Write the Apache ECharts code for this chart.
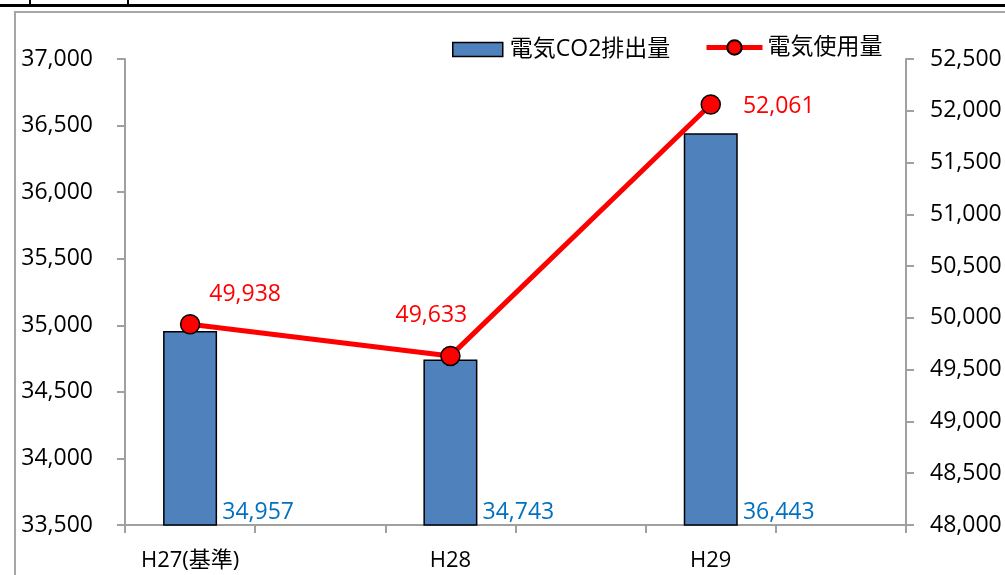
<!DOCTYPE html>
<html>
<head>
<meta charset="utf-8">
<script src="https://cdn.jsdelivr.net/npm/echarts@6/dist/echarts.min.js"></script>
<style>html,body{margin:0;padding:0;background:#fff;}#c{width:1005px;height:575px;}</style>
</head>
<body>
<div id="c"></div>
<script>
// ---- data ----
var categories = ['H27(基準)', 'H28', 'H29'];
var co2Values = [34957, 34743, 36443];      // 電気CO2排出量 (left axis)
var usageValues = [49938, 49633, 52061];    // 電気使用量 (right axis)
var leftTicks = { min: 33500, max: 37000, interval: 500 };
var rightTicks = { min: 48000, max: 52500, interval: 500 };
var seriesNames = ['電気CO2排出量', '電気使用量'];

// ---- styling (label offsets for line points) ----
var usageLabelOffsets = [[55, -30], [-19, -40], [68, 2]];

var FONT = "'Open Sans', 'Noto Sans CJK JP', sans-serif";
function fmt(v) { return Number(v).toLocaleString('en-US'); }

// each category occupies two slots (label slot + blank slot) to mimic the tick pattern
var slots = [], barData = [], lineData = [];
categories.forEach(function (c, i) {
  slots.push(c); slots.push('');
  barData.push(co2Values[i]); barData.push(null);
  lineData.push({
    value: usageValues[i],
    label: { offset: usageLabelOffsets[i] }
  });
  lineData.push(null);
});

var axisGray = '#A0A0A0';
var chart = echarts.init(document.getElementById('c'), null, { renderer: 'canvas' });
chart.setOption({
  animation: false,
  backgroundColor: '#fff',
  textStyle: { fontFamily: FONT },
  graphic: [
    { type: 'rect', shape: { x: 0, y: 4, width: 1005, height: 3 }, style: { fill: '#000' }, silent: true },
    { type: 'rect', shape: { x: 29, y: 0, width: 2, height: 5 }, style: { fill: '#000' }, silent: true },
    { type: 'rect', shape: { x: 127, y: 0, width: 2, height: 5 }, style: { fill: '#000' }, silent: true },
    { type: 'rect', shape: { x: 15, y: 12, width: 1100, height: 700 }, style: { fill: 'none', stroke: '#A6A6A6', lineWidth: 2 }, silent: true }
  ],
  grid: { left: 125, right: 99, top: 59, bottom: 50, containLabel: false },
  legend: [
    {
      data: [{ name: seriesNames[0], icon: 'rect' }], left: 452, top: 38, padding: 0,
      itemWidth: 50, itemHeight: 14, itemGap: 0,
      itemStyle: { borderColor: '#000', borderWidth: 1.5 },
      textStyle: { fontSize: 23, color: '#000', fontFamily: FONT, padding: [0, 0, 0, 2] }
    },
    {
      data: [seriesNames[1]], left: 704, top: 36, padding: 0,
      itemWidth: 56, itemHeight: 18, itemGap: 0,
      lineStyle: { width: 5, color: '#FF0000' },
      textStyle: { fontSize: 23, color: '#000', fontFamily: FONT }
    }
  ],
  xAxis: {
    type: 'category',
    data: slots,
    boundaryGap: true,
    axisLine: { lineStyle: { color: axisGray, width: 2 } },
    axisTick: { show: true, interval: 0, length: 8, lineStyle: { color: axisGray, width: 2 } },
    axisLabel: { interval: 0, margin: 25, fontSize: 22, color: '#000', fontFamily: FONT },
    splitLine: { show: false }
  },
  yAxis: [
    {
      type: 'value', position: 'left',
      min: leftTicks.min, max: leftTicks.max, interval: leftTicks.interval,
      axisLine: { show: true, lineStyle: { color: axisGray, width: 2 } },
      axisTick: { show: true, length: 8, lineStyle: { color: axisGray, width: 2 } },
      axisLabel: { margin: 32, fontSize: 23, color: '#000', fontFamily: FONT, formatter: fmt },
      splitLine: { show: false }
    },
    {
      type: 'value', position: 'right',
      min: rightTicks.min, max: rightTicks.max, interval: rightTicks.interval,
      axisLine: { show: true, lineStyle: { color: axisGray, width: 2 } },
      axisTick: { show: true, length: 8, lineStyle: { color: axisGray, width: 2 } },
      axisLabel: { margin: 24, fontSize: 23, color: '#000', fontFamily: FONT, formatter: fmt },
      splitLine: { show: false }
    }
  ],
  series: [
    {
      name: seriesNames[0], type: 'bar', yAxisIndex: 0,
      data: barData, barWidth: 54,
      itemStyle: { color: '#4F81BD', borderColor: '#000', borderWidth: 1.5 },
      label: {
        show: true, position: 'insideBottom', distance: 0, offset: [68, -2],
        color: '#0070C0', fontSize: 23, fontFamily: FONT,
        formatter: function (p) { return fmt(p.value); }
      },
      z: 2
    },
    {
      name: seriesNames[1], type: 'line', yAxisIndex: 1,
      data: lineData, connectNulls: true,
      symbol: 'circle', symbolSize: 19,
      lineStyle: { color: '#FF0000', width: 5 },
      itemStyle: { color: '#FF0000', borderColor: '#000', borderWidth: 1.5 },
      label: {
        show: true, position: 'inside',
        color: '#FF0000', fontSize: 23, fontFamily: FONT,
        formatter: function (p) { return fmt(p.value); }
      },
      z: 5
    }
  ]
});
</script>
</body>
</html>
